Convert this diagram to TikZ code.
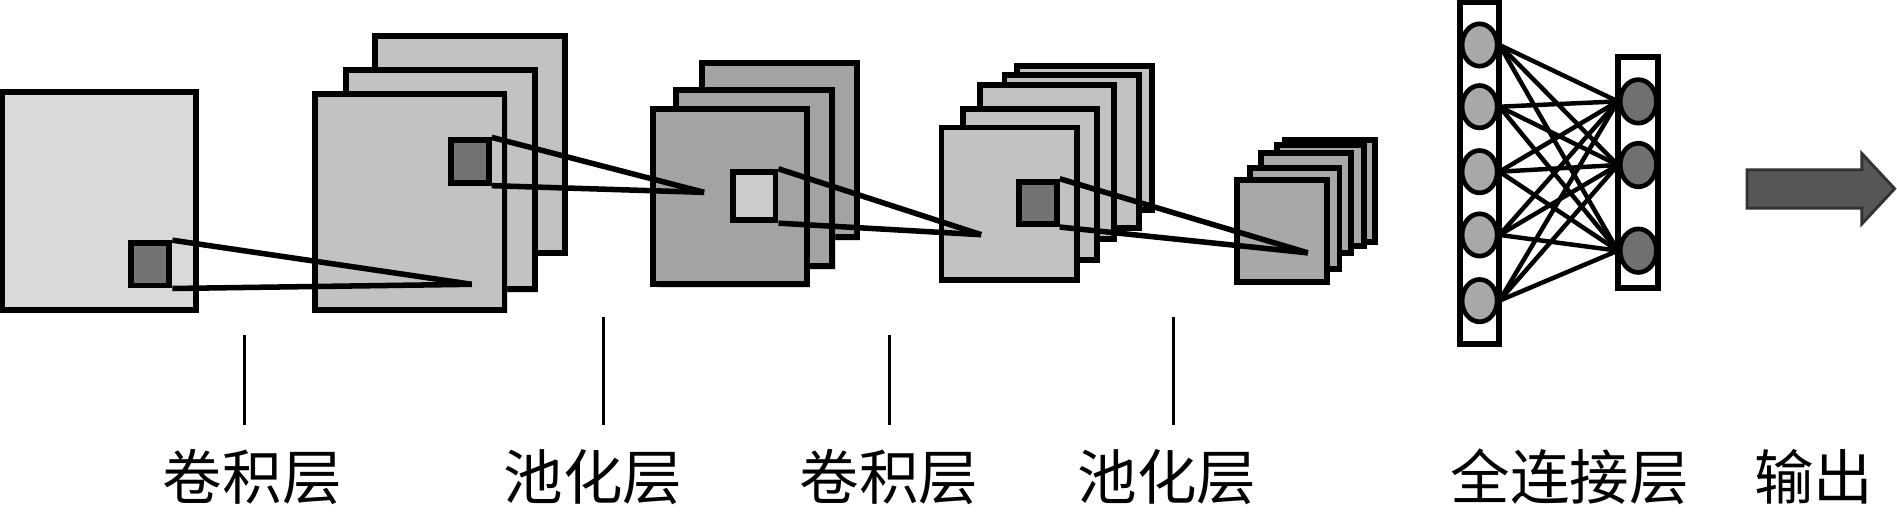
\documentclass[tikz,border=0pt]{standalone}
\usepackage{fontspec}
\newfontfamily\cjk{Noto Sans CJK SC}
\usetikzlibrary{shapes.geometric,shadows}

\definecolor{ingray}{gray}{0.85}
\definecolor{convgray}{gray}{0.76}
\definecolor{poolgray}{gray}{0.64}
\definecolor{pooltwo}{gray}{0.66}
\definecolor{wingray}{gray}{0.45}
\definecolor{winlight}{gray}{0.80}
\definecolor{neuronlight}{gray}{0.66}
\definecolor{neurondark}{gray}{0.44}
\definecolor{arrowgray}{gray}{0.34}

\begin{document}
\begin{tikzpicture}[
				x=0.1mm, y=-0.1mm,
				fmap/.style={rectangle, draw, line width=1.4pt, inner sep=0pt},
				mapshadow/.style={drop shadow={shadow xshift=0.8pt, shadow yshift=-0.8pt, opacity=0.3}},
				window/.style={rectangle, draw, line width=1.4pt, inner sep=0pt},
				rf/.style={line width=1.3pt},
				column/.style={rectangle, draw, line width=1.4pt, inner sep=0pt, minimum width=3.2mm},
				neuron/.style={ellipse, draw, line width=1.1pt, inner sep=0pt, minimum width=2.9mm, minimum height=3.5mm},
				fcline/.style={line width=1.05pt},
				layertick/.style={line width=0.65pt},
				lbl/.style={font=\cjk\fontsize{14}{16}\selectfont, inner sep=0pt}
				]
				\useasboundingbox (0,0) rectangle (1568,424);
				
				% Input
				\node[fmap, fill=ingray, minimum width=16mm, minimum height=18mm] (in) at (82,166) {};
				\node[window, fill=wingray, minimum width=3.2mm, minimum height=3.5mm] (w0) at (124,218.5) {};
				
				% Convolution 1
				\node[fmap, fill=convgray, mapshadow, minimum width=15.7mm, minimum height=17.9mm] (c1a) at (388.5,119.5) {};
				\node[fmap, fill=convgray, mapshadow, minimum width=15.6mm, minimum height=18.1mm] (c1b) at (364,148.5) {};
				\node[fmap, fill=convgray, mapshadow, minimum width=15.7mm, minimum height=17.8mm] (c1c) at (338.5,167) {};
				\node[window, fill=wingray, minimum width=3.1mm, minimum height=3.5mm] (w1) at (388.5,133.5) {};
				
				% Pooling 1
				\node[fmap, fill=poolgray, mapshadow, minimum width=12.8mm, minimum height=14.4mm] (p1a) at (644,124) {};
				\node[fmap, fill=poolgray, mapshadow, minimum width=12.9mm, minimum height=14.6mm] (p1b) at (623.5,147) {};
				\node[fmap, fill=poolgray, mapshadow, minimum width=12.7mm, minimum height=14.5mm] (p1c) at (603.5,162.5) {};
				\node[window, fill=winlight, minimum width=3.5mm, minimum height=4mm] (w2) at (623.5,162) {};
				
				% Convolution 2
				\node[fmap, fill=convgray, minimum width=11.1mm, minimum height=11.9mm] (c2a) at (896.5,114) {};
				\node[fmap, fill=convgray, minimum width=11.1mm, minimum height=12.7mm] (c2b) at (885.8,125.1) {};
				\node[fmap, fill=convgray, minimum width=11.1mm, minimum height=12.7mm] (c2c) at (865.3,134.1) {};
				\node[fmap, fill=convgray, minimum width=11.1mm, minimum height=12.5mm] (c2d) at (851.2,152.3) {};
				\node[fmap, fill=convgray, minimum width=11.2mm, minimum height=12.6mm] (c2e) at (834.2,168.4) {};
				\node[window, fill=wingray, minimum width=3.1mm, minimum height=3.5mm] (w3) at (858,167.7) {};
				
				% Pooling 2
				\node[fmap, fill=pooltwo, minimum width=7.4mm, minimum height=8.4mm] (p2a) at (1099.4,157.7) {};
				\node[fmap, fill=pooltwo, minimum width=7.2mm, minimum height=8.3mm] (p2b) at (1091.4,161.7) {};
				\node[fmap, fill=pooltwo, minimum width=7.4mm, minimum height=8.3mm] (p2c) at (1079.3,167.7) {};
				\node[fmap, fill=pooltwo, minimum width=7.4mm, minimum height=8.4mm] (p2d) at (1070.2,180.5) {};
				\node[fmap, fill=pooltwo, minimum width=7.4mm, minimum height=8.4mm] (p2e) at (1059.5,190.8) {};
				
				% Receptive fields
				\coordinate (k1) at (390,235);
				\coordinate (k2) at (582,159);
				\coordinate (k3) at (811,194);
				\coordinate (k4) at (1081,209);
				\draw[rf] (w0.north east) -- (k1);
				\draw[rf] (w0.south east) -- (k1);
				\draw[rf] (w1.north east) -- (k2);
				\draw[rf] (w1.south east) -- (k2);
				\draw[rf] (w2.north east) -- (k3);
				\draw[rf] (w2.south east) -- (k3);
				\draw[rf] (w3.north east) -- (k4);
				\draw[rf] (w3.south east) -- (k4);
				
				% Fully connected
				\node[column, fill=white, minimum height=28.2mm] (colL) at (1223,143) {};
				\node[column, fill=white, minimum width=3.3mm, minimum height=19.1mm] (colR) at (1354.2,142.9) {};
				\foreach \y [count=\i] in {37.2,88.2,141.9,194.2,248.5}
					\node[neuron, fill=neuronlight] (l\i) at (1223,\y) {};
				\foreach \y [count=\j] in {83.8,136.4,207.2}
					\node[neuron, fill=neurondark, minimum width=3mm, minimum height=3.6mm] (r\j) at (1354.2,\y) {};
				\foreach \i in {1,...,5}
					\foreach \j in {1,...,3}
						\draw[fcline] (l\i.east) -- (r\j.west);
				
				% Output arrow
				\draw[line width=0.7pt, fill=arrowgray, draw=black!80] (1444,140.5) -- (1539,140.5) -- (1539,127) -- (1566,156) -- (1539,185) -- (1539,172) -- (1444,172) -- cycle;
				
				% Labels
				\draw[layertick] (202,277) -- (202,351);
				\draw[layertick] (499,262) -- (499,351);
				\draw[layertick] (735,277) -- (735,351);
				\draw[layertick] (970,262) -- (970,351);
				\node[lbl] (t1) at (208.5,394) {卷积层};
				\node[lbl] (t2) at (490,394) {池化层};
				\node[lbl] (t3) at (735,394) {卷积层};
				\node[lbl] (t4) at (964.5,394) {池化层};
				\node[lbl] (t5) at (1297.5,394) {全连接层};
				\node[lbl] (t6) at (1499,394) {输出};
			\end{tikzpicture}
\end{document}
